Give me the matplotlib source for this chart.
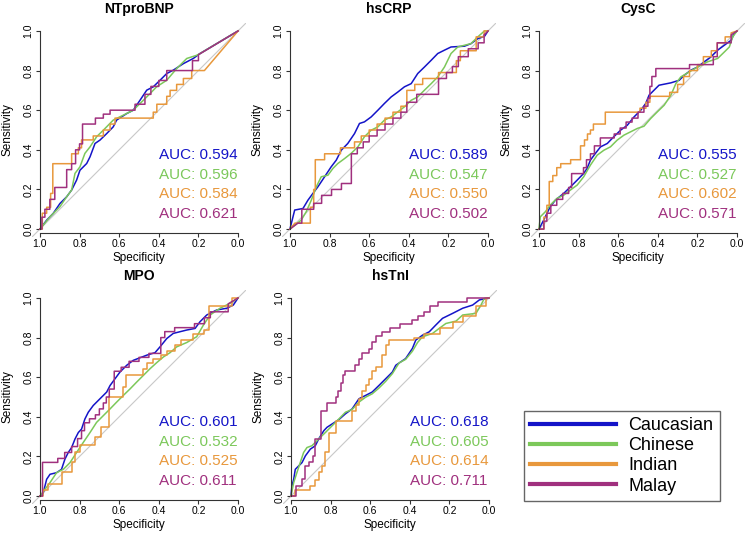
import matplotlib
matplotlib.use('Agg')
import matplotlib.pyplot as plt
from matplotlib.lines import Line2D

plt.rcParams['font.family'] = ['Liberation Sans', 'DejaVu Sans']

# ROC curves: (specificity, sensitivity) vertices
groups = ['Caucasian', 'Chinese', 'Indian', 'Malay']
colors = ['#1414C8', '#7CC85A', '#E8983C', '#A0307E']
markers = ['NTproBNP', 'hsCRP', 'CysC', 'MPO', 'hsTnI']

auc_ntprobnp = [0.594, 0.596, 0.584, 0.621]
auc_hscrp = [0.589, 0.547, 0.550, 0.502]
auc_cysc = [0.555, 0.527, 0.602, 0.571]
auc_mpo = [0.601, 0.532, 0.525, 0.611]
auc_hstni = [0.618, 0.605, 0.614, 0.711]

ntprobnp_cau = [(1.0, 0.0), (0.966, 0.045), (0.933, 0.079), (0.899, 0.129), (0.865, 0.163), (0.840, 0.197),
                (0.815, 0.247), (0.798, 0.297), (0.764, 0.331), (0.747, 0.365), (0.722, 0.432), (0.697, 0.449),
                (0.663, 0.482), (0.630, 0.516), (0.613, 0.550), (0.562, 0.583), (0.529, 0.600), (0.495, 0.650),
                (0.461, 0.701), (0.428, 0.718), (0.394, 0.751), (0.360, 0.785), (0.327, 0.802), (0.276, 0.835),
                (0.226, 0.861), (0.192, 0.886), (0.0, 1.0)]
ntprobnp_chi = [(1.0, 0.0), (0.949, 0.062), (0.899, 0.113), (0.865, 0.163), (0.840, 0.197), (0.823, 0.281),
                (0.798, 0.314), (0.773, 0.382), (0.747, 0.415), (0.714, 0.466), (0.680, 0.499), (0.630, 0.550),
                (0.579, 0.575), (0.529, 0.600), (0.478, 0.650), (0.444, 0.684), (0.411, 0.718), (0.360, 0.751),
                (0.310, 0.810), (0.259, 0.861), (0.209, 0.877), (0.192, 0.886), (0.0, 1.0)]
ntprobnp_ind = [(1.0, 0.0), (0.988, 0.0), (0.988, 0.08), (0.966, 0.08), (0.966, 0.11), (0.946, 0.11),
                (0.946, 0.18), (0.935, 0.18), (0.935, 0.33), (0.84, 0.33), (0.84, 0.38), (0.806, 0.38),
                (0.806, 0.41), (0.79, 0.41), (0.79, 0.45), (0.731, 0.45), (0.731, 0.47), (0.68, 0.47),
                (0.68, 0.50), (0.646, 0.50), (0.646, 0.53), (0.621, 0.53), (0.621, 0.56), (0.428, 0.56),
                (0.428, 0.59), (0.41, 0.59), (0.41, 0.63), (0.36, 0.63), (0.36, 0.67), (0.343, 0.67),
                (0.343, 0.70), (0.31, 0.70), (0.31, 0.73), (0.276, 0.73), (0.276, 0.76), (0.234, 0.76),
                (0.234, 0.80), (0.17, 0.80), (0.0, 1.0)]
ntprobnp_mal = [(1.0, 0.0), (0.99, 0.0), (0.99, 0.06), (0.975, 0.06), (0.975, 0.10), (0.95, 0.10),
                (0.95, 0.15), (0.925, 0.15), (0.925, 0.21), (0.865, 0.21), (0.865, 0.30), (0.84, 0.30),
                (0.84, 0.33), (0.82, 0.33), (0.82, 0.40), (0.80, 0.40), (0.80, 0.43), (0.785, 0.43),
                (0.785, 0.53), (0.72, 0.53), (0.72, 0.56), (0.68, 0.56), (0.68, 0.58), (0.646, 0.58),
                (0.646, 0.60), (0.52, 0.60), (0.52, 0.63), (0.47, 0.63), (0.47, 0.68), (0.44, 0.68),
                (0.44, 0.72), (0.40, 0.72), (0.40, 0.75), (0.36, 0.75), (0.36, 0.80), (0.23, 0.80),
                (0.23, 0.85), (0.20, 0.85), (0.20, 0.88), (0.0, 1.0)]

hscrp_cau = [(1.0, 0.0), (0.976, 0.096), (0.934, 0.104), (0.909, 0.146), (0.884, 0.180), (0.859, 0.213),
             (0.825, 0.264), (0.792, 0.314), (0.766, 0.348), (0.741, 0.398), (0.708, 0.432), (0.674, 0.482),
             (0.649, 0.533), (0.624, 0.541), (0.590, 0.566), (0.556, 0.600), (0.523, 0.634), (0.489, 0.667),
             (0.455, 0.692), (0.422, 0.718), (0.388, 0.734), (0.355, 0.785), (0.321, 0.818), (0.287, 0.852),
             (0.254, 0.886), (0.220, 0.903), (0.187, 0.919), (0.119, 0.923), (0.086, 0.936), (0.052, 0.961),
             (0.018, 0.973), (0.0, 1.0)]
hscrp_chi = [(1.0, 0.0), (0.943, 0.045), (0.918, 0.087), (0.892, 0.146), (0.867, 0.213), (0.842, 0.264),
             (0.808, 0.272), (0.783, 0.306), (0.758, 0.331), (0.724, 0.356), (0.691, 0.382), (0.657, 0.415),
             (0.624, 0.466), (0.590, 0.499), (0.556, 0.516), (0.523, 0.550), (0.489, 0.566), (0.455, 0.592),
             (0.422, 0.617), (0.388, 0.650), (0.355, 0.667), (0.321, 0.701), (0.287, 0.734), (0.254, 0.768),
             (0.220, 0.818), (0.187, 0.886), (0.153, 0.919), (0.086, 0.936), (0.052, 0.970), (0.018, 1.0),
             (0.0, 1.0)]
hscrp_ind = [(1.0, 0.0), (0.975, 0.03), (0.897, 0.03), (0.897, 0.11), (0.88, 0.11), (0.88, 0.20),
             (0.872, 0.20), (0.872, 0.35), (0.825, 0.35), (0.825, 0.38), (0.745, 0.38), (0.745, 0.41),
             (0.674, 0.41), (0.674, 0.44), (0.64, 0.44), (0.64, 0.47), (0.60, 0.47), (0.60, 0.50),
             (0.56, 0.50), (0.56, 0.53), (0.52, 0.53), (0.52, 0.56), (0.48, 0.56), (0.48, 0.59),
             (0.44, 0.59), (0.44, 0.62), (0.41, 0.62), (0.41, 0.70), (0.37, 0.70), (0.37, 0.73),
             (0.33, 0.73), (0.33, 0.76), (0.25, 0.76), (0.25, 0.79), (0.16, 0.79), (0.16, 0.85),
             (0.14, 0.85), (0.14, 0.90), (0.06, 0.90), (0.06, 0.97), (0.02, 0.97), (0.02, 1.0), (0.0, 1.0)]
hscrp_mal = [(1.0, 0.0), (0.96, 0.03), (0.94, 0.03), (0.94, 0.10), (0.88, 0.10), (0.88, 0.13),
             (0.84, 0.13), (0.84, 0.17), (0.79, 0.17), (0.79, 0.20), (0.74, 0.20), (0.74, 0.23),
             (0.69, 0.23), (0.69, 0.38), (0.66, 0.38), (0.66, 0.41), (0.63, 0.41), (0.63, 0.44),
             (0.60, 0.44), (0.60, 0.47), (0.56, 0.47), (0.56, 0.50), (0.52, 0.50), (0.52, 0.53),
             (0.48, 0.53), (0.48, 0.56), (0.44, 0.56), (0.44, 0.59), (0.41, 0.59), (0.41, 0.64),
             (0.36, 0.64), (0.36, 0.68), (0.25, 0.68), (0.25, 0.76), (0.21, 0.76), (0.21, 0.79),
             (0.18, 0.79), (0.18, 0.82), (0.15, 0.82), (0.15, 0.87), (0.10, 0.87), (0.10, 0.91),
             (0.05, 0.91), (0.05, 0.94), (0.02, 0.94), (0.02, 0.98), (0.0, 1.0)]

cysc_cau = [(1.0, 0.0), (0.976, 0.045), (0.943, 0.113), (0.917, 0.146), (0.875, 0.180), (0.841, 0.213),
            (0.807, 0.247), (0.774, 0.281), (0.757, 0.306), (0.740, 0.348), (0.715, 0.382), (0.689, 0.415),
            (0.655, 0.432), (0.622, 0.466), (0.588, 0.499), (0.554, 0.524), (0.520, 0.566), (0.486, 0.600),
            (0.461, 0.634), (0.444, 0.676), (0.419, 0.701), (0.394, 0.726), (0.334, 0.738), (0.292, 0.751),
            (0.267, 0.776), (0.233, 0.802), (0.199, 0.818), (0.166, 0.844), (0.132, 0.869), (0.098, 0.903),
            (0.064, 0.928), (0.030, 0.953), (0.014, 0.987), (0.0, 1.0)]
cysc_chi = [(1.0, 0.0), (0.993, 0.062), (0.968, 0.087), (0.943, 0.121), (0.909, 0.155), (0.875, 0.171),
            (0.841, 0.197), (0.807, 0.222), (0.774, 0.264), (0.740, 0.323), (0.706, 0.373), (0.672, 0.398),
            (0.639, 0.415), (0.605, 0.449), (0.571, 0.474), (0.537, 0.491), (0.503, 0.508), (0.470, 0.519),
            (0.436, 0.558), (0.402, 0.592), (0.368, 0.625), (0.334, 0.676), (0.309, 0.734), (0.284, 0.768),
            (0.233, 0.798), (0.199, 0.818), (0.149, 0.844), (0.098, 0.861), (0.064, 0.894), (0.039, 0.919),
            (0.022, 0.970), (0.0, 1.0)]
cysc_ind = [(1.0, 0.0), (0.975, 0.0), (0.975, 0.06), (0.96, 0.06), (0.96, 0.12), (0.948, 0.12),
            (0.948, 0.24), (0.93, 0.24), (0.93, 0.27), (0.91, 0.27), (0.91, 0.31), (0.89, 0.31),
            (0.89, 0.33), (0.84, 0.33), (0.84, 0.35), (0.79, 0.35), (0.79, 0.42), (0.77, 0.42),
            (0.77, 0.45), (0.755, 0.45), (0.755, 0.48), (0.74, 0.48), (0.74, 0.50), (0.725, 0.50),
            (0.725, 0.53), (0.665, 0.53), (0.665, 0.59), (0.49, 0.59), (0.49, 0.61), (0.46, 0.61),
            (0.46, 0.64), (0.44, 0.64), (0.44, 0.67), (0.34, 0.67), (0.34, 0.69), (0.30, 0.69),
            (0.30, 0.73), (0.27, 0.73), (0.27, 0.77), (0.24, 0.77), (0.24, 0.80), (0.20, 0.80),
            (0.20, 0.83), (0.17, 0.83), (0.17, 0.87), (0.13, 0.87), (0.13, 0.90), (0.10, 0.90),
            (0.10, 0.94), (0.06, 0.94), (0.06, 0.97), (0.03, 0.97), (0.03, 0.99), (0.0, 1.0)]
cysc_mal = [(1.0, 0.0), (0.975, 0.0), (0.975, 0.04), (0.96, 0.04), (0.96, 0.08), (0.94, 0.08),
            (0.94, 0.12), (0.91, 0.12), (0.91, 0.15), (0.88, 0.15), (0.88, 0.18), (0.85, 0.18),
            (0.85, 0.21), (0.835, 0.21), (0.835, 0.28), (0.775, 0.28), (0.775, 0.31), (0.76, 0.31),
            (0.76, 0.35), (0.74, 0.35), (0.74, 0.38), (0.72, 0.38), (0.72, 0.42), (0.69, 0.42),
            (0.69, 0.46), (0.62, 0.46), (0.62, 0.48), (0.59, 0.48), (0.59, 0.51), (0.56, 0.51),
            (0.56, 0.54), (0.53, 0.54), (0.53, 0.56), (0.50, 0.56), (0.50, 0.59), (0.47, 0.59),
            (0.47, 0.62), (0.45, 0.62), (0.45, 0.66), (0.44, 0.66), (0.44, 0.72), (0.43, 0.72),
            (0.43, 0.77), (0.41, 0.77), (0.41, 0.81), (0.24, 0.81), (0.24, 0.83), (0.12, 0.83),
            (0.12, 0.87), (0.10, 0.87), (0.10, 0.94), (0.03, 0.94), (0.03, 0.98), (0.0, 1.0)]

mpo_cau = [(1.0, 0.0), (0.983, 0.017), (0.966, 0.085), (0.949, 0.110), (0.916, 0.118), (0.891, 0.135),
           (0.874, 0.186), (0.857, 0.220), (0.840, 0.245), (0.823, 0.288), (0.806, 0.321), (0.790, 0.338),
           (0.773, 0.389), (0.756, 0.423), (0.731, 0.457), (0.697, 0.491), (0.663, 0.525), (0.646, 0.558),
           (0.621, 0.592), (0.596, 0.626), (0.562, 0.660), (0.529, 0.685), (0.461, 0.711), (0.419, 0.724),
           (0.394, 0.753), (0.360, 0.795), (0.327, 0.821), (0.259, 0.838), (0.217, 0.846), (0.192, 0.880),
           (0.158, 0.914), (0.108, 0.939), (0.057, 0.948), (0.024, 0.964), (0.0, 1.0)]
mpo_chi = [(1.0, 0.0), (0.975, 0.034), (0.949, 0.068), (0.916, 0.118), (0.882, 0.135), (0.848, 0.169),
           (0.815, 0.220), (0.781, 0.271), (0.747, 0.321), (0.714, 0.372), (0.680, 0.406), (0.646, 0.440),
           (0.613, 0.474), (0.579, 0.508), (0.545, 0.541), (0.512, 0.575), (0.478, 0.609), (0.444, 0.643),
           (0.411, 0.673), (0.377, 0.702), (0.343, 0.724), (0.310, 0.753), (0.259, 0.775), (0.209, 0.804),
           (0.175, 0.863), (0.141, 0.914), (0.091, 0.948), (0.040, 0.973), (0.0, 1.0)]
mpo_ind = [(1.0, 0.0), (0.985, 0.0), (0.985, 0.03), (0.958, 0.03), (0.958, 0.06), (0.891, 0.06),
           (0.891, 0.12), (0.84, 0.12), (0.84, 0.17), (0.823, 0.17), (0.823, 0.22), (0.80, 0.22),
           (0.80, 0.26), (0.72, 0.26), (0.72, 0.30), (0.69, 0.30), (0.69, 0.35), (0.65, 0.35),
           (0.65, 0.50), (0.58, 0.50), (0.58, 0.55), (0.565, 0.55), (0.565, 0.61), (0.48, 0.61),
           (0.48, 0.64), (0.46, 0.64), (0.46, 0.67), (0.43, 0.67), (0.43, 0.69), (0.39, 0.69),
           (0.39, 0.71), (0.36, 0.71), (0.36, 0.73), (0.32, 0.73), (0.32, 0.76), (0.29, 0.76),
           (0.29, 0.79), (0.23, 0.79), (0.23, 0.82), (0.17, 0.82), (0.17, 0.84), (0.145, 0.84),
           (0.145, 0.96), (0.03, 0.96), (0.03, 1.0), (0.0, 1.0)]
mpo_mal = [(1.0, 0.0), (0.987, 0.0), (0.987, 0.17), (0.91, 0.17), (0.91, 0.19), (0.875, 0.19),
           (0.875, 0.22), (0.84, 0.22), (0.84, 0.25), (0.81, 0.25), (0.81, 0.29), (0.79, 0.29),
           (0.79, 0.33), (0.775, 0.33), (0.775, 0.37), (0.75, 0.37), (0.75, 0.39), (0.72, 0.39),
           (0.72, 0.41), (0.70, 0.41), (0.70, 0.44), (0.68, 0.44), (0.68, 0.47), (0.665, 0.47),
           (0.665, 0.50), (0.65, 0.50), (0.65, 0.54), (0.625, 0.54), (0.625, 0.63), (0.59, 0.63),
           (0.59, 0.65), (0.55, 0.65), (0.55, 0.68), (0.50, 0.68), (0.50, 0.70), (0.45, 0.70),
           (0.45, 0.72), (0.39, 0.72), (0.39, 0.80), (0.37, 0.80), (0.37, 0.83), (0.32, 0.83),
           (0.32, 0.85), (0.22, 0.85), (0.22, 0.87), (0.17, 0.87), (0.17, 0.90), (0.14, 0.90),
           (0.14, 0.93), (0.05, 0.93), (0.05, 0.97), (0.0, 1.0)]

hstni_cau = [(1.0, 0.0), (0.995, 0.051), (0.986, 0.085), (0.978, 0.135), (0.961, 0.152), (0.944, 0.169),
             (0.927, 0.203), (0.902, 0.237), (0.877, 0.254), (0.860, 0.288), (0.834, 0.330), (0.818, 0.347),
             (0.792, 0.364), (0.758, 0.386), (0.725, 0.415), (0.691, 0.440), (0.657, 0.491), (0.623, 0.508),
             (0.590, 0.525), (0.556, 0.558), (0.522, 0.592), (0.488, 0.626), (0.471, 0.660), (0.446, 0.677),
             (0.421, 0.694), (0.387, 0.745), (0.370, 0.787), (0.336, 0.812), (0.302, 0.829), (0.269, 0.863),
             (0.235, 0.897), (0.184, 0.922), (0.133, 0.948), (0.083, 0.964), (0.049, 0.990), (0.0, 1.0)]
hstni_chi = [(1.0, 0.0), (0.986, 0.068), (0.970, 0.118), (0.953, 0.169), (0.936, 0.220), (0.919, 0.245),
             (0.894, 0.254), (0.860, 0.288), (0.826, 0.321), (0.792, 0.355), (0.758, 0.389), (0.725, 0.423),
             (0.691, 0.437), (0.657, 0.474), (0.623, 0.499), (0.590, 0.516), (0.556, 0.545), (0.522, 0.579),
             (0.488, 0.618), (0.454, 0.672), (0.421, 0.690), (0.387, 0.731), (0.361, 0.775), (0.336, 0.804),
             (0.285, 0.821), (0.252, 0.846), (0.218, 0.871), (0.167, 0.883), (0.133, 0.914), (0.066, 0.922),
             (0.041, 0.964), (0.024, 0.998), (0.0, 1.0)]
hstni_ind = [(1.0, 0.0), (0.978, 0.0), (0.978, 0.03), (0.902, 0.03), (0.902, 0.05), (0.877, 0.05),
             (0.877, 0.08), (0.86, 0.08), (0.86, 0.12), (0.843, 0.12), (0.843, 0.15), (0.826, 0.15),
             (0.826, 0.22), (0.809, 0.22), (0.809, 0.32), (0.775, 0.32), (0.775, 0.38), (0.69, 0.38),
             (0.69, 0.43), (0.674, 0.43), (0.674, 0.46), (0.657, 0.46), (0.657, 0.49), (0.64, 0.49),
             (0.64, 0.53), (0.623, 0.53), (0.623, 0.56), (0.606, 0.56), (0.606, 0.59), (0.59, 0.59),
             (0.59, 0.63), (0.573, 0.63), (0.573, 0.65), (0.54, 0.65), (0.54, 0.71), (0.522, 0.71),
             (0.522, 0.76), (0.505, 0.76), (0.505, 0.79), (0.378, 0.79), (0.378, 0.80), (0.33, 0.80),
             (0.33, 0.82), (0.25, 0.82), (0.25, 0.85), (0.184, 0.85), (0.184, 0.88), (0.133, 0.88),
             (0.133, 0.91), (0.066, 0.91), (0.066, 0.96), (0.015, 0.96), (0.015, 1.0), (0.0, 1.0)]
hstni_mal = [(1.0, 0.0), (0.975, 0.0), (0.975, 0.05), (0.944, 0.05), (0.944, 0.085), (0.93, 0.085),
             (0.93, 0.15), (0.91, 0.15), (0.91, 0.17), (0.89, 0.17), (0.89, 0.20), (0.877, 0.20),
             (0.877, 0.29), (0.85, 0.29), (0.85, 0.43), (0.82, 0.43), (0.82, 0.47), (0.775, 0.47),
             (0.775, 0.50), (0.76, 0.50), (0.76, 0.53), (0.745, 0.53), (0.745, 0.57), (0.735, 0.57),
             (0.735, 0.61), (0.725, 0.61), (0.725, 0.63), (0.675, 0.63), (0.675, 0.66), (0.657, 0.66),
             (0.657, 0.69), (0.64, 0.69), (0.64, 0.72), (0.606, 0.72), (0.606, 0.74), (0.59, 0.74),
             (0.59, 0.78), (0.573, 0.78), (0.573, 0.81), (0.54, 0.81), (0.54, 0.83), (0.50, 0.83),
             (0.50, 0.85), (0.45, 0.85), (0.45, 0.87), (0.39, 0.87), (0.39, 0.89), (0.36, 0.89),
             (0.36, 0.91), (0.33, 0.91), (0.33, 0.93), (0.30, 0.93), (0.30, 0.96), (0.26, 0.96),
             (0.26, 0.98), (0.11, 0.98), (0.11, 1.0), (0.0, 1.0)]

curves = [[ntprobnp_cau, ntprobnp_chi, ntprobnp_ind, ntprobnp_mal],
          [hscrp_cau, hscrp_chi, hscrp_ind, hscrp_mal],
          [cysc_cau, cysc_chi, cysc_ind, cysc_mal],
          [mpo_cau, mpo_chi, mpo_ind, mpo_mal],
          [hstni_cau, hstni_chi, hstni_ind, hstni_mal]]
aucs = [auc_ntprobnp, auc_hscrp, auc_cysc, auc_mpo, auc_hstni]

W, H = 747, 533
fig = plt.figure(figsize=(W / 100, H / 100), dpi=100)

# panel left/top corners in pixels
boxes = [(32, 23), (282, 23), (531, 23), (32, 290), (283, 290)]
size = 214

for k, name in enumerate(markers):
    x0, y0 = boxes[k]
    ax = fig.add_axes([x0 / W, 1 - (y0 + size) / H, size / W, size / H])
    ax.set_xlim(1.04, -0.04)
    ax.set_ylim(-0.04, 1.04)
    ax.plot([1.04, -0.04], [-0.04, 1.04], color='#C8C8C8', lw=0.8, zorder=1)
    for g in range(4):
        spec = [p[0] for p in curves[k][g]]
        sens = [p[1] for p in curves[k][g]]
        ax.plot(spec, sens, color=colors[g], lw=1.1, zorder=2)
    for g in range(4):
        ax.text(0.40, 0.375 - 0.1 * g, 'AUC: %.3f' % aucs[k][g], color=colors[g],
                fontsize=11, ha='left', va='center')

    ax.spines['top'].set_visible(False)
    ax.spines['right'].set_visible(False)
    ax.spines['left'].set_position(('data', 1.0))
    ax.spines['left'].set_bounds(0, 1)
    ax.spines['bottom'].set_position(('data', -0.02))
    ax.spines['bottom'].set_bounds(0, 1)
    for s in ['left', 'bottom']:
        ax.spines[s].set_linewidth(0.8)
        ax.spines[s].set_color('#333333')
    ax.set_xticks([1.0, 0.8, 0.6, 0.4, 0.2, 0.0])
    ax.set_yticks([0.0, 0.2, 0.4, 0.6, 0.8, 1.0])
    ax.set_xticklabels(['1.0', '0.8', '0.6', '0.4', '0.2', '0.0'])
    ax.set_yticklabels(['0.0', '0.2', '0.4', '0.6', '0.8', '1.0'], rotation=90, va='center')
    ax.tick_params(length=3, width=0.8, color='#333333', labelsize=7.5, pad=1.5)
    ax.set_xlabel('Specificity', fontsize=8.5, labelpad=0)
    ax.set_ylabel('Sensitivity', fontsize=8.5)
    ax.xaxis.set_label_coords(0.5, -0.068)
    ax.yaxis.set_label_coords(-0.085, 0.5)
    ax.set_title(name, fontsize=10, fontweight='bold', pad=7)
    ax.patch.set_visible(False)

handles = [Line2D([], [], color=c, lw=3) for c in colors]
fig.legend(handles, groups, loc='upper left', bbox_to_anchor=(524 / W, 1 - 411 / H),
           fontsize=13, frameon=True, fancybox=False, edgecolor='#666666', framealpha=1,
           borderaxespad=0, handlelength=4.76, handletextpad=0.66, borderpad=0.35,
           labelspacing=0.17)

fig.savefig('out.png', dpi=100)
